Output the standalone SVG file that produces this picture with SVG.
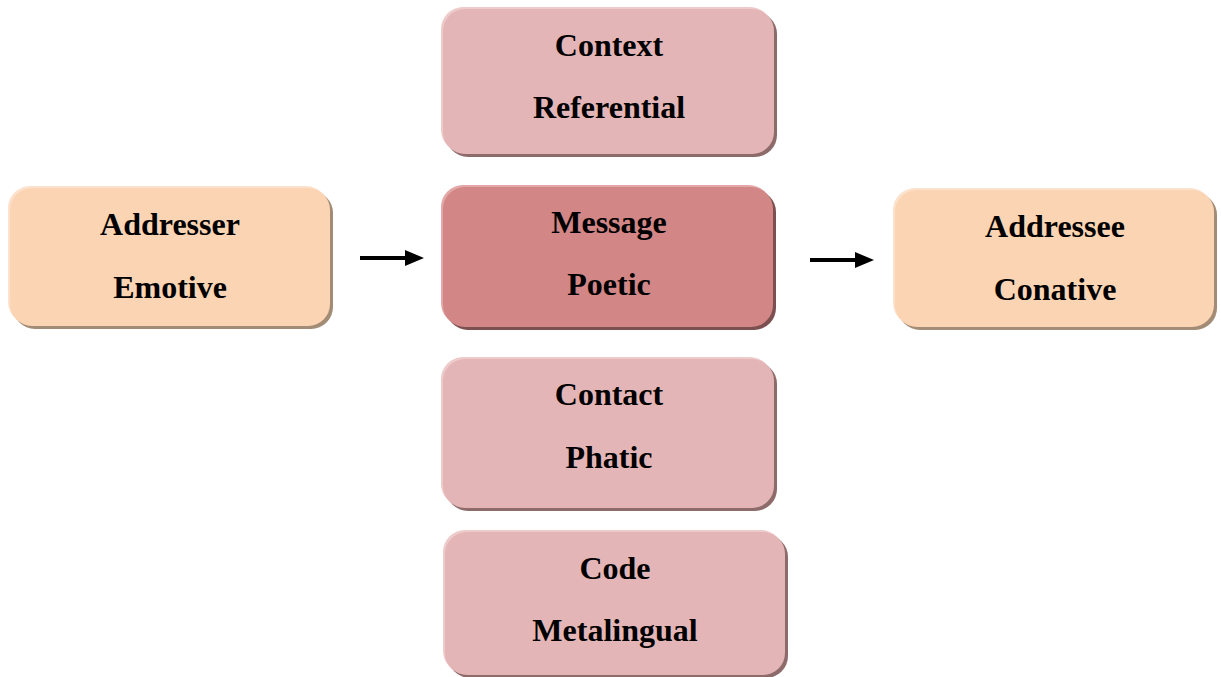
<svg xmlns="http://www.w3.org/2000/svg" width="1221" height="677" viewBox="0 0 1221 677">
  <defs>
    <style>
      .lbl { font-family: "Liberation Serif", "Times New Roman", serif; font-weight: bold; font-size: 32px; fill: #000; text-anchor: middle; }
      .pink .hi { fill: #EECBCB; }
      .pink .sh { fill: #8E6B6B; }
      .pink .body { fill: #E4B5B6; }
      .rose .hi { fill: #E3A7A7; }
      .rose .sh { fill: #7C5050; }
      .rose .body { fill: #D38686; }
      .peach .hi { fill: #FCE2CD; }
      .peach .sh { fill: #A38C76; }
      .peach .body { fill: #FAD4B3; }
      .shaft { stroke: #000; stroke-width: 4; fill: none; }
      .tip { fill: #000; }
    </style>
  </defs>
  <rect width="1221" height="677" fill="#fff"/>

  <!-- Context / Referential -->
  <g id="context" class="pink">
    <rect class="hi" x="441" y="7" width="331" height="145" rx="22"/>
    <rect class="sh" x="446" y="12" width="331" height="145" rx="22"/>
    <rect class="body" x="443" y="9" width="331" height="145" rx="22"/>
    <text class="lbl" x="609" y="56">Context</text>
    <text class="lbl" x="609" y="118">Referential</text>
  </g>

  <!-- Addresser / Emotive -->
  <g id="addresser" class="peach">
    <rect class="hi" x="8" y="186" width="320" height="138" rx="22"/>
    <rect class="sh" x="13" y="191" width="320" height="138" rx="22"/>
    <rect class="body" x="10" y="188" width="320" height="138" rx="22"/>
    <text class="lbl" x="170" y="235">Addresser</text>
    <text class="lbl" x="170" y="298">Emotive</text>
  </g>

  <!-- Message / Poetic -->
  <g id="message" class="rose">
    <rect class="hi" x="441" y="185" width="330" height="140" rx="22"/>
    <rect class="sh" x="446" y="190" width="330" height="140" rx="22"/>
    <rect class="body" x="443" y="187" width="330" height="140" rx="22"/>
    <text class="lbl" x="609" y="233">Message</text>
    <text class="lbl" x="609" y="295">Poetic</text>
  </g>

  <!-- Addressee / Conative -->
  <g id="addressee" class="peach">
    <rect class="hi" x="893" y="188" width="319" height="137" rx="22"/>
    <rect class="sh" x="898" y="193" width="319" height="137" rx="22"/>
    <rect class="body" x="895" y="190" width="319" height="137" rx="22"/>
    <text class="lbl" x="1055" y="237">Addressee</text>
    <text class="lbl" x="1055" y="300">Conative</text>
  </g>

  <!-- Contact / Phatic -->
  <g id="contact" class="pink">
    <rect class="hi" x="441" y="357" width="331" height="149" rx="22"/>
    <rect class="sh" x="446" y="362" width="331" height="149" rx="22"/>
    <rect class="body" x="443" y="359" width="331" height="149" rx="22"/>
    <text class="lbl" x="609" y="405">Contact</text>
    <text class="lbl" x="609" y="468">Phatic</text>
  </g>

  <!-- Code / Metalingual -->
  <g id="code" class="pink">
    <rect class="hi" x="443" y="530" width="340" height="143" rx="22"/>
    <rect class="sh" x="448" y="535" width="340" height="143" rx="22"/>
    <rect class="body" x="445" y="532" width="340" height="143" rx="22"/>
    <text class="lbl" x="615" y="579">Code</text>
    <text class="lbl" x="615" y="641">Metalingual</text>
  </g>

  <!-- Connectors: shaft plus solid triangular head -->
  <g id="connectors">
    <path class="shaft" d="M360,258 H406"/>
    <path class="tip" d="M405,250 L424,258 L405,266 Z"/>
    <path class="shaft" d="M810,260 H856"/>
    <path class="tip" d="M855,252 L874,260 L855,268 Z"/>
  </g>
</svg>
